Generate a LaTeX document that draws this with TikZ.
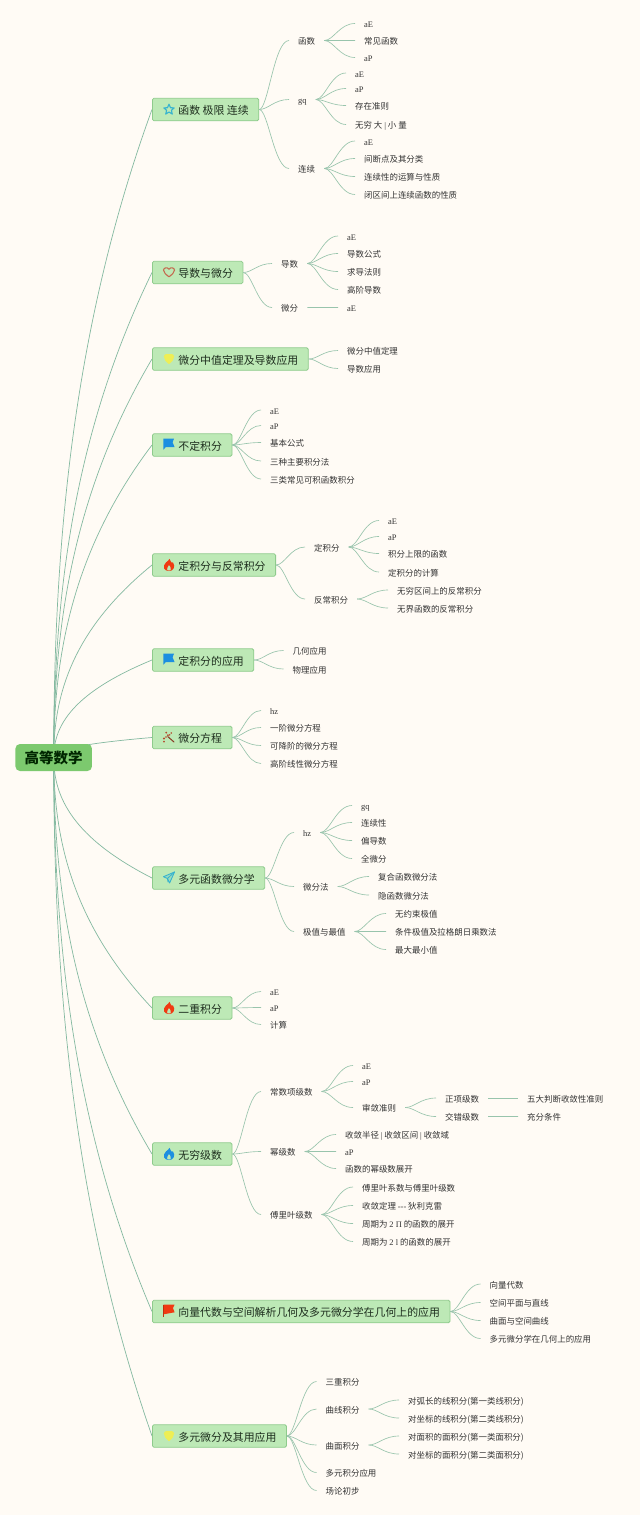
\documentclass[tikz,border=0pt]{standalone}
\usepackage{fontspec}
\setmainfont{Noto Sans CJK SC}
\newfontfamily\lat{Liberation Serif}
\usetikzlibrary{calc,backgrounds}
\definecolor{pagebg}{HTML}{FFFBF5}
\definecolor{linec}{HTML}{98C4AC}
\definecolor{rootlinec}{HTML}{84B9A0}
\definecolor{topicfill}{HTML}{BDE9B6}
\definecolor{topicedge}{HTML}{8ECB8C}
\definecolor{rootfill}{HTML}{7CC96E}
\definecolor{leafink}{HTML}{333333}
\definecolor{topicink}{HTML}{1E2E1E}
\definecolor{flagblue}{HTML}{1C8FE0}
\definecolor{flamered}{HTML}{F03A12}
\definecolor{startteal}{HTML}{36B3CF}
\definecolor{heartred}{HTML}{C4694F}
\definecolor{shieldyellow}{HTML}{EEEE55}
\definecolor{wandred}{HTML}{B5492C}
\tikzset{
  leafnode/.style={anchor=west,inner xsep=9pt,inner ysep=0pt,text height=8pt,text depth=0pt,
    font=\fontsize{8.45}{10}\selectfont,text=leafink},
  topicnode/.style={anchor=west,draw=topicedge,fill=topicfill,line width=0.8pt,rounded corners=1.5pt,
    inner xsep=10pt,inner ysep=0pt,minimum height=22.5pt,text height=10pt,text depth=0pt,
    font=\fontsize{10.9}{12}\selectfont,text=topicink},
  rootnode/.style={fill=rootfill,rounded corners=4.5pt,inner sep=0pt,minimum width=76.5pt,minimum height=27pt,
    font=\fontsize{14.5}{16}\selectfont\bfseries,text=black!85!green},
  conn/.style={draw=linec,line width=0.65pt},
  rootconn/.style={draw=rootlinec,line width=0.7pt},
  ico/.style={line join=round,line cap=round}
}
\newcommand{\kid}[5]{%
  \node[leafnode] (#2) at (#3-9,#4) {#5};
  \draw[conn] (#1.east) .. controls ($(#1.east)!.3!(#1.east -| #2.west)$) and ($(#2.west)!.5!(#2.west -| #1.east)$) .. (#2.west);
}
\newcommand{\topicn}[3]{%
  \node[topicnode] (#1) at (152,#2) {\hspace{16pt}#3};
  \begin{scope}[on background layer]
    \draw[rootconn] let \p1=(root.center),\p2=(#1.west) in (\p1) .. controls (\x1,{\y1+(\y2-\y1)/3}) and ({\x1+0.2*(\x2-\x1)},{\y1+0.667*(\y2-\y1)}) .. (\p2);
  \end{scope}
}
\newcommand{\icoflag}[3]{\fill[#1,shift={(169,#2)}] #3 (-5.6,-6) -- (5,-6) -- (3.6,-2.4) -- (5.6,2.4) -- (-3.2,2.4) -- (-5.6,5) -- cycle;}
\newcommand{\icoflame}[2]{%
  \begin{scope}[shift={(169,#2)}]
    \fill[#1] (0.5,-6.2) .. controls (0.8,-3.5) and (3,-3) .. (3.2,-1.8) .. controls (3.8,-2.2) and (3.9,-2.8) .. (3.8,-3) .. controls (5.4,-0.5) and (5.8,1.5) .. (4.6,3.6) .. controls (3.8,5.2) and (2,6) .. (0,6) .. controls (-2.2,6) and (-4,5.2) .. (-4.9,3.4) .. controls (-5.8,1) and (-4.4,-1) .. (-3,-2.6) .. controls (-1.5,-4) and (0,-4.6) .. (0.5,-6.2) -- cycle;
    \fill[topicfill] (0,0.2) .. controls (0.6,1.6) and (2.6,2.6) .. (1.8,4.4) .. controls (1.4,5.4) and (0.6,5.7) .. (0,5.7) .. controls (-0.8,5.7) and (-1.6,5.3) .. (-1.9,4.4) .. controls (-2.4,2.8) and (-0.6,1.8) .. (0,0.2) -- cycle;
  \end{scope}}
\begin{document}
\begin{tikzpicture}[x=1pt,y=-1pt]
\useasboundingbox (0,0) rectangle (640,1515);
\begin{scope}[on background layer]
  \fill[pagebg] (0,0) rectangle (640,1515);
\end{scope}
\node[rootnode] (root) at (53.7,757.5) {高等数学};

% 1
\topicn{t1}{109.5}{函数\hspace{2.5pt}极限\hspace{2.5pt}连续}
\kid{t1}{a1}{298}{40.5}{函数}
\kid{a1}{a1x}{364}{23.5}{\lat aE}
\kid{a1}{a1y}{364}{40.5}{常见函数}
\kid{a1}{a1z}{364}{57.5}{\lat aP}
\kid{t1}{a2}{298}{99.5}{\lat gq}
\kid{a2}{a2x}{355}{73}{\lat aE}
\kid{a2}{a2y}{355}{88.5}{\lat aP}
\kid{a2}{a2z}{355}{105.5}{存在准则}
\kid{a2}{a2w}{355}{124.5}{无穷 大 {\lat|} 小 量}
\kid{t1}{a3}{298}{168.5}{连续}
\kid{a3}{a3x}{364}{141}{\lat aE}
\kid{a3}{a3y}{364}{158.5}{间断点及其分类}
\kid{a3}{a3z}{364}{176.5}{连续性的运算与性质}
\kid{a3}{a3w}{364}{194.5}{闭区间上连续函数的性质}
% 2
\topicn{t2}{272.5}{导数与微分}
\kid{t2}{b1}{281}{263.5}{导数}
\kid{b1}{b1x}{347}{236}{\lat aE}
\kid{b1}{b1y}{347}{253.5}{导数公式}
\kid{b1}{b1z}{347}{271.5}{求导法则}
\kid{b1}{b1w}{347}{289.5}{高阶导数}
\kid{t2}{b2}{281}{307.5}{微分}
\kid{b2}{b2x}{347}{307.5}{\lat aE}
% 3
\topicn{t3}{359}{微分中值定理及导数应用}
\kid{t3}{c1}{347}{350.5}{微分中值定理}
\kid{t3}{c2}{347}{368.5}{导数应用}
% 4
\topicn{t4}{445}{不定积分}
\kid{t4}{d1}{270}{410}{\lat aE}
\kid{t4}{d2}{270}{425.5}{\lat aP}
\kid{t4}{d3}{270}{442.5}{基本公式}
\kid{t4}{d4}{270}{461}{三种主要积分法}
\kid{t4}{d5}{270}{479}{三类常见可积函数积分}
% 5
\topicn{t5}{565}{定积分与反常积分}
\kid{t5}{e1}{314}{547}{定积分}
\kid{e1}{e1x}{388}{520.5}{\lat aE}
\kid{e1}{e1y}{388}{536.5}{\lat aP}
\kid{e1}{e1z}{388}{553.5}{积分上限的函数}
\kid{e1}{e1w}{388}{572}{定积分的计算}
\kid{t5}{e2}{314}{599}{反常积分}
\kid{e2}{e2x}{397}{590}{无穷区间上的反常积分}
\kid{e2}{e2y}{397}{608}{无界函数的反常积分}
% 6
\topicn{t6}{660}{定积分的应用}
\kid{t6}{f1}{292.5}{650.5}{几何应用}
\kid{t6}{f2}{292.5}{669}{物理应用}
% 7
\topicn{t7}{737.5}{微分方程}
\kid{t7}{g1}{270}{710.5}{\lat hz}
\kid{t7}{g2}{270}{727.5}{一阶微分方程}
\kid{t7}{g3}{270}{745.5}{可降阶的微分方程}
\kid{t7}{g4}{270}{763.5}{高阶线性微分方程}
% 8
\topicn{t8}{878}{多元函数微分学}
\kid{t8}{h1}{303}{832.5}{\lat hz}
\kid{h1}{h1x}{361}{805.5}{\lat gq}
\kid{h1}{h1y}{361}{822.5}{连续性}
\kid{h1}{h1z}{361}{840.5}{偏导数}
\kid{h1}{h1w}{361}{858.5}{全微分}
\kid{t8}{h2}{303}{886.5}{微分法}
\kid{h2}{h2x}{378}{876.5}{复合函数微分法}
\kid{h2}{h2y}{378}{895}{隐函数微分法}
\kid{t8}{h3}{303}{931.5}{极值与最值}
\kid{h3}{h3x}{395}{913.5}{无约束极值}
\kid{h3}{h3y}{395}{931.5}{条件极值及拉格朗日乘数法}
\kid{h3}{h3z}{395}{949.5}{最大最小值}
% 9
\topicn{t9}{1008}{二重积分}
\kid{t9}{i1}{270}{991.5}{\lat aE}
\kid{t9}{i2}{270}{1007.5}{\lat aP}
\kid{t9}{i3}{270}{1024.5}{计算}
% 10
\topicn{t10}{1154}{无穷级数}
\kid{t10}{j1}{270}{1091.5}{常数项级数}
\kid{j1}{j1x}{362}{1065.5}{\lat aE}
\kid{j1}{j1y}{362}{1081.5}{\lat aP}
\kid{j1}{j1z}{362}{1107.5}{审敛准则}
\kid{j1z}{j2x}{445}{1098}{正项级数}
\kid{j1z}{j2y}{445}{1116.5}{交错级数}
\kid{j2x}{j3x}{527}{1098}{五大判断收敛性准则}
\kid{j2y}{j3y}{527}{1116.5}{充分条件}
\kid{t10}{j4}{270}{1151.5}{幂级数}
\kid{j4}{j4x}{345}{1134.5}{收敛半径 {\lat|} 收敛区间 {\lat|} 收敛域}
\kid{j4}{j4y}{345}{1151.5}{\lat aP}
\kid{j4}{j4z}{345}{1168.5}{函数的幂级数展开}
\kid{t10}{j5}{270}{1214.5}{傅里叶级数}
\kid{j5}{j5x}{362}{1187}{傅里叶系数与傅里叶级数}
\kid{j5}{j5y}{362}{1205.5}{收敛定理 {\lat -{}-{}-} 狄利克雷}
\kid{j5}{j5z}{362}{1223.5}{周期为 {\lat 2 Π} 的函数的展开}
\kid{j5}{j5w}{362}{1241.5}{周期为 {\lat 2 l} 的函数的展开}
% 11
\topicn{t11}{1311.5}{向量代数与空间解析几何及多元微分学在几何上的应用}
\kid{t11}{k1}{489.5}{1284}{向量代数}
\kid{t11}{k2}{489.5}{1302.5}{空间平面与直线}
\kid{t11}{k3}{489.5}{1320.5}{曲面与空间曲线}
\kid{t11}{k4}{489.5}{1338.5}{多元微分学在几何上的应用}
% 12
\topicn{t12}{1436}{多元微分及其用应用}
\kid{t12}{m1}{325.5}{1381.5}{三重积分}
\kid{t12}{m2}{325.5}{1409}{曲线积分}
\kid{m2}{m2x}{408}{1400}{对弧长的线积分(第一类线积分)}
\kid{m2}{m2y}{408}{1418}{对坐标的线积分(第二类线积分)}
\kid{t12}{m3}{325.5}{1445}{曲面积分}
\kid{m3}{m3x}{408}{1436}{对面积的面积分(第一类面积分)}
\kid{m3}{m3y}{408}{1454}{对坐标的面积分(第二类面积分)}
\kid{t12}{m4}{325.5}{1472.5}{多元积分应用}
\kid{t12}{m5}{325.5}{1490.5}{场论初步}

% icons
\draw[ico,startteal,line width=1.1pt,shift={(169,109.5)}] (0,-5.3) -- (1.5,-1.8) -- (5.2,-1.6) -- (2.4,0.8) -- (3.3,4.6) -- (0,2.5) -- (-3.3,4.6) -- (-2.4,0.8) -- (-5.2,-1.6) -- (-1.5,-1.8) -- cycle;
\draw[ico,heartred,line width=1.1pt,shift={(169,272)}] (0,4.8) .. controls (-3,2.5) and (-5.5,0.5) .. (-5.5,-1.8) .. controls (-5.5,-4.4) and (-1.5,-5.2) .. (0,-2.8) .. controls (1.5,-5.2) and (5.5,-4.4) .. (5.5,-1.8) .. controls (5.5,0.5) and (3,2.5) .. (0,4.8) -- cycle;
\fill[shieldyellow,shift={(169,359)}] (0,5.2) .. controls (-2.6,3.4) and (-5.2,0.8) .. (-5.2,-2.6) .. controls (-5.2,-4.6) and (-3.6,-5) .. (0,-5) .. controls (3.6,-5) and (5.2,-4.6) .. (5.2,-2.6) .. controls (5.2,0.8) and (2.6,3.4) .. (0,5.2) -- cycle;
\icoflag{flagblue}{444.7}{}
\icoflame{flamered}{565}
\icoflag{flagblue}{659.7}{}
% wand
\begin{scope}[shift={(169,738)}]
  \draw[ico,wandred!75!black,line width=1pt] (-1.2,-1.4) -- (5,4);
  \fill[wandred] (-2.8,-5.4) circle (1pt) (2.2,-5) circle (0.9pt) (-5,0.4) circle (1.1pt) (-5,3.6) circle (0.9pt) (-1.2,-2.8) circle (1pt) (0.6,-3.2) circle (0.9pt) (-3,-1) circle (0.9pt);
\end{scope}
% plane
\begin{scope}[shift={(169,877.5)}]
  \draw[ico,startteal,fill=startteal!25!topicfill,line width=0.9pt] (5.5,-5.5) -- (-5.5,-0.8) -- (-1.6,1) -- (0.6,5.5) -- cycle;
  \draw[ico,startteal,line width=0.8pt] (5.5,-5.5) -- (-1.6,1) -- (-1,4.4);
\end{scope}
\icoflame{flamered}{1008}
\icoflame{flagblue}{1154}
% red flag
\begin{scope}[shift={(169,1310.5)}]
  \fill[flamered] (-5.4,-6) -- (5.6,-6) -- (4,-2.4) -- (5.6,1.8) -- (-5.4,3.8) -- cycle;
  \draw[flamered!80!black,line width=0.6pt] (-5.4,-6) -- (-5.4,6);
\end{scope}
\fill[shieldyellow,shift={(169,1436)}] (0,5.2) .. controls (-2.6,3.4) and (-5.2,0.8) .. (-5.2,-2.6) .. controls (-5.2,-4.6) and (-3.6,-5) .. (0,-5) .. controls (3.6,-5) and (5.2,-4.6) .. (5.2,-2.6) .. controls (5.2,0.8) and (2.6,3.4) .. (0,5.2) -- cycle;
\end{tikzpicture}
\end{document}
